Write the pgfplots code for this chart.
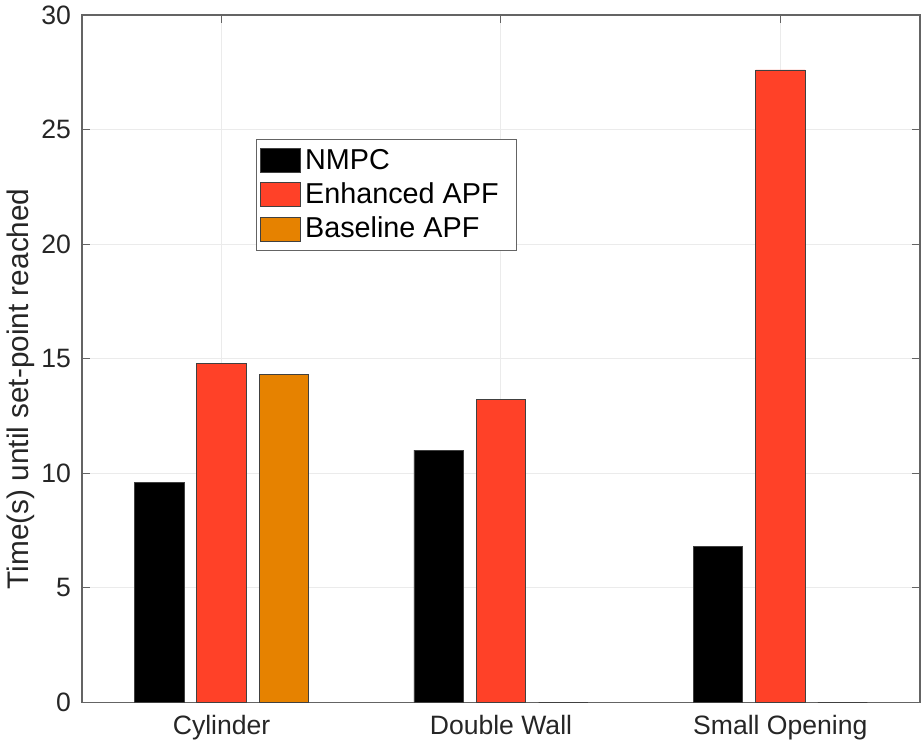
\documentclass[border=0pt]{standalone}
\usepackage{pgfplots}
\pgfplotsset{compat=1.18}
\usepackage{fontspec}
\setmainfont{Liberation Sans}
\definecolor{nmpc}{RGB}{0,0,0}
\definecolor{enh}{RGB}{255,65,40}
\definecolor{base}{RGB}{230,130,0}
\definecolor{axgray}{RGB}{100,100,100}
\definecolor{txt}{RGB}{38,38,38}
\definecolor{gridc}{RGB}{235,235,235}
\begin{document}
\begin{tikzpicture}
\begin{axis}[
  scale only axis,
  width=419.5pt, height=344pt,
  at={(0,0)}, anchor=south west,
  ybar,
  xmin=0.5, xmax=3.5,
  ymin=0, ymax=30,
  xtick={1,2,3},
  xticklabels={Cylinder,Double Wall,Small Opening},
  ytick={0,5,10,15,20,25,30},
  /pgf/number format/assume math mode=true,
  tick label style={font=\fontsize{13.3}{15}\selectfont, text=txt},
  xticklabel style={yshift=-3pt},
  yticklabel style={xshift=-2pt},
  tick align=inside,
  major tick length=4pt,
  tick style={axgray, line width=0.5pt},
  axis line style={axgray, line width=0.6pt},
  grid=major,
  major grid style={gridc, line width=0.5pt},
  ylabel={Time(s) until set-point reached},
  ylabel style={at={(axis description cs:-0.0894,0.456)}, anchor=north, inner sep=0pt, font=\fontsize{14.9}{17}\selectfont, text=txt},
  bar width=0.177,
  legend style={at={(0.2076,0.8198)}, anchor=north west, draw=axgray, line width=0.5pt,
    font=\fontsize{14.4}{17}\selectfont, inner xsep=2pt, inner ysep=3pt, row sep=1.2pt,
    cells={anchor=west}, fill=white},
  legend image code/.code={\draw[#1, draw=black!75, line width=0.4pt] (0pt,-6pt) rectangle (20pt,6pt);},
]
\addplot[fill=nmpc, draw=black!75, line width=0.4pt, bar shift=-0.223] coordinates {(1,9.6) (2,11.0) (3,6.8)};
\addplot[fill=enh, draw=black!75, line width=0.4pt, bar shift=0] coordinates {(1,14.8) (2,13.2) (3,27.6)};
\addplot[fill=base, draw=black!75, line width=0.4pt, bar shift=0.223] coordinates {(1,14.3) (2,0) (3,0)};
\legend{NMPC,Enhanced APF\hspace*{5pt},Baseline APF}
\end{axis}
\pgfresetboundingbox
\path[use as bounding box] (-41pt,-20pt) rectangle (420pt,351.5pt);
\end{tikzpicture}
\end{document}
